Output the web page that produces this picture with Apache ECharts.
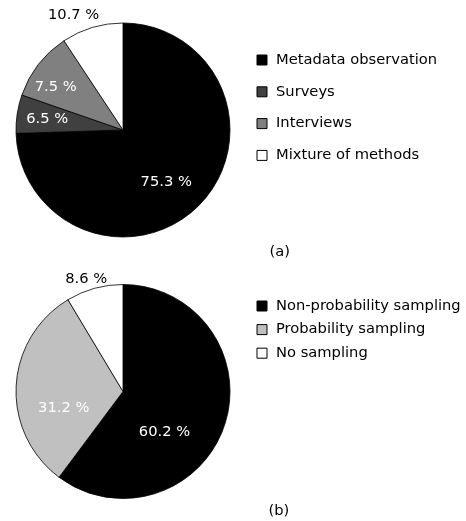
<!DOCTYPE html>
<html>
<head>
<meta charset="utf-8">
<script src="https://cdn.jsdelivr.net/npm/echarts@6/dist/echarts.min.js"></script>
<style>
html,body{margin:0;padding:0;background:#fff;}
#chart{width:466px;height:521px;}
</style>
</head>
<body>
<div id="chart"></div>
<script>
// ---- data ----
const categoriesA = ['Metadata observation', 'Surveys', 'Interviews', 'Mixture of methods'];
// slice shares as drawn in the picture
const valuesA = [74.5, 5.8, 10.4, 9.3];
// percentage texts printed on the picture
const pctLabelsA = ['75.3 %', '6.5 %', '7.5 %', '10.7 %'];
const categoriesB = ['Non-probability sampling', 'Probability sampling', 'No sampling'];
const valuesB = [60.2, 31.2, 8.6];
const pctLabelsB = ['60.2 %', '31.2 %', '8.6 %'];
const captions = ['(a)', '(b)'];

// ---- style ----
const FONT = 'DejaVu Sans';
const FS = 14.7;
const colorsA = ['#000000', '#404040', '#808080', '#ffffff'];
const colorsB = ['#000000', '#c0c0c0', '#ffffff'];
const labelColorsA = ['#ffffff', '#ffffff', '#ffffff', '#000000'];
const labelColorsB = ['#ffffff', '#ffffff', '#000000'];
// label placement: [angle clockwise from 12 o'clock (deg), distance as fraction of radius]
const placeA = [[139.6, 0.623], [279, 0.717], [303.6, 0.755], [337, 1.18]];
const placeB = [[133.7, 0.536], [255.3, 0.573], [342.1, 1.12]];
const R = 107;
const centerA = [123, 130];
const centerB = [123, 391.5];

function makeLayout(center, place) {
  return function (params) {
    const i = params.dataIndex;
    const t = place[i][0] * Math.PI / 180;
    const d = place[i][1] * R;
    return {
      x: center[0] + d * Math.sin(t),
      y: center[1] - d * Math.cos(t) + 1.5,
      align: 'center',
      verticalAlign: 'middle'
    };
  };
}

function makeData(cats, vals, colors, labelColors) {
  return cats.map((c, i) => ({
    name: c,
    value: vals[i],
    itemStyle: { color: colors[i] },
    label: { color: labelColors[i] }
  }));
}

function pieSeries(cats, vals, texts, colors, labelColors, center, place) {
  return {
    type: 'pie',
    center: center,
    radius: [0, R],
    startAngle: 90,
    clockwise: true,
    avoidLabelOverlap: false,
    silent: true,
    itemStyle: { borderColor: '#000', borderWidth: 0.8 },
    label: {
      show: true,
      position: 'inside',
      formatter: (p) => texts[p.dataIndex],
      fontFamily: FONT,
      fontSize: FS
    },
    labelLine: { show: false },
    labelLayout: makeLayout(center, place),
    emphasis: { disabled: true },
    data: makeData(cats, vals, colors, labelColors)
  };
}

function legend(cats, top, gap) {
  return {
    orient: 'vertical',
    left: 256.5,
    top: top,
    padding: 0,
    itemGap: gap,
    itemWidth: 10,
    itemHeight: 10,
    icon: 'rect',
    selectedMode: false,
    itemStyle: { borderColor: '#000', borderWidth: 1 },
    textStyle: { fontFamily: FONT, fontSize: FS, color: '#000', lineHeight: 16, padding: [0, 0, 0, 4] },
    data: cats
  };
}

const chart = echarts.init(document.getElementById('chart'), null, { renderer: 'canvas' });
chart.setOption({
  animation: false,
  backgroundColor: '#ffffff',
  title: [
    { text: captions[0], left: 269.5, top: 244.5, padding: 0,
      textStyle: { fontFamily: FONT, fontSize: FS, fontWeight: 'normal', color: '#000', lineHeight: 16 } },
    { text: captions[1], left: 268.5, top: 503, padding: 0,
      textStyle: { fontFamily: FONT, fontSize: FS, fontWeight: 'normal', color: '#000', lineHeight: 16 } }
  ],
  legend: [
    legend(categoriesA, 52, 15.8),
    legend(categoriesB, 298, 7.6)
  ],
  series: [
    pieSeries(categoriesA, valuesA, pctLabelsA, colorsA, labelColorsA, centerA, placeA),
    pieSeries(categoriesB, valuesB, pctLabelsB, colorsB, labelColorsB, centerB, placeB)
  ]
});
</script>
</body>
</html>
